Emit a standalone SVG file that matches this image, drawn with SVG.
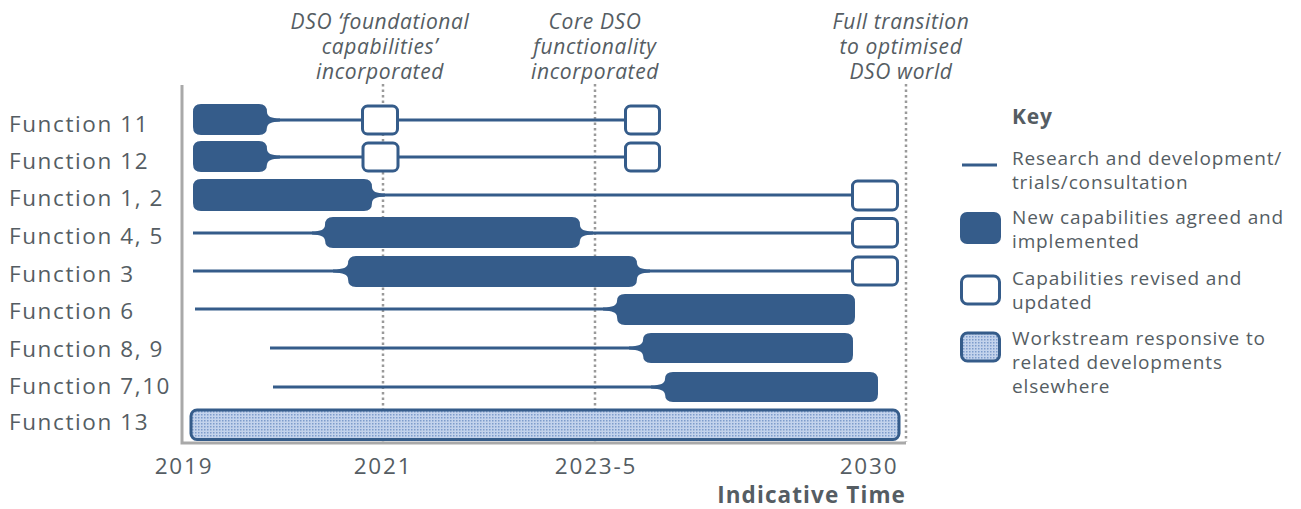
<svg xmlns="http://www.w3.org/2000/svg" width="1301" height="509" viewBox="0 0 1301 509">
<defs>
<pattern id="dots" width="3" height="3" patternUnits="userSpaceOnUse">
<rect width="3" height="3" fill="#c3d3ec"/>
<rect x="0" y="0" width="1.5" height="1.5" fill="#7d9ccb"/>
</pattern>
</defs>
<style>
.lbl{font-family:"Open Sans","Noto Sans",sans-serif;font-size:22.5px;fill:#555d63;letter-spacing:1.6px}
.yr{font-family:"Open Sans","Noto Sans",sans-serif;font-size:22.5px;fill:#555d63;letter-spacing:1.8px;text-anchor:middle}
.ann{font-family:"Open Sans","Noto Sans",sans-serif;font-size:21px;font-style:italic;fill:#555d63;text-anchor:middle;letter-spacing:0.6px}
.key{font-family:"Open Sans","Noto Sans",sans-serif;font-size:19px;fill:#555d63;letter-spacing:0.85px}
.bold{font-weight:bold}
.bar{fill:#355c8a}
.box{fill:#fff;stroke:#355c8a;stroke-width:3}
.hatch{fill:url(#dots);stroke:#355c8a;stroke-width:3}
.ln{stroke:#355c8a;stroke-width:3;fill:none}
.axis{stroke:#a9a9a9;stroke-width:3;fill:none}
.grid{stroke:#9a9a9a;stroke-width:2.5;stroke-dasharray:2.5 3;fill:none}
</style>
<g id="grid">
<line class="grid" x1="383" y1="84" x2="383" y2="442"/>
<line class="grid" x1="595" y1="84" x2="595" y2="442"/>
<line class="grid" x1="906" y1="84" x2="906" y2="442"/>
<polyline class="axis" points="182,85 182,443 906,443"/>
</g>
<g id="annotations">
<text class="ann" x="380" y="29">DSO ‘foundational</text>
<text class="ann" x="380" y="54">capabilities’</text>
<text class="ann" x="380" y="79">incorporated</text>
<text class="ann" x="595" y="29">Core DSO</text>
<text class="ann" x="595" y="54">functionality</text>
<text class="ann" x="595" y="79">incorporated</text>
<text class="ann" x="901" y="29">Full transition</text>
<text class="ann" x="901" y="54">to optimised</text>
<text class="ann" x="901" y="79">DSO world</text>
</g>
<g id="connectors">
<line class="ln" x1="270" y1="120" x2="625" y2="120"/>
<line class="ln" x1="270" y1="157" x2="625" y2="157"/>
<line class="ln" x1="376" y1="195" x2="852" y2="195"/>
<line class="ln" x1="193" y1="233" x2="852" y2="233"/>
<line class="ln" x1="193" y1="271" x2="852" y2="271"/>
<line class="ln" x1="195" y1="309" x2="617" y2="309"/>
<line class="ln" x1="270" y1="348" x2="643" y2="348"/>
<line class="ln" x1="273" y1="387" x2="665" y2="387"/>
</g>
<g id="labels">
<text class="lbl" x="9" y="131.5">Function 11</text>
<text class="lbl" x="9" y="168.5">Function 12</text>
<text class="lbl" x="9" y="206">Function 1, 2</text>
<text class="lbl" x="9" y="243.5">Function 4, 5</text>
<text class="lbl" x="9" y="281.5">Function 3</text>
<text class="lbl" x="9" y="318.5">Function 6</text>
<text class="lbl" x="9" y="356.5">Function 8, 9</text>
<text class="lbl" x="9" y="393.5">Function 7,10</text>
<text class="lbl" x="9" y="430">Function 13</text>
</g>
<g id="f11">
<path class="bar" d="M201,104 H259 Q267,104 267,112 V112 Q267,118.5 280,118.5 V121.5 Q267,121.5 267,128 V127 Q267,135 259,135 H201 Q193,135 193,127 V112 Q193,104 201,104 Z"/>
<rect class="box" x="362.5" y="106" width="35" height="28" rx="5"/>
<rect class="box" x="625.5" y="106" width="34" height="28" rx="5"/>
</g>
<g id="f12">
<path class="bar" d="M201,141 H259 Q267,141 267,149 V149 Q267,155.5 280,155.5 V158.5 Q267,158.5 267,165 V164 Q267,172 259,172 H201 Q193,172 193,164 V149 Q193,141 201,141 Z"/>
<rect class="box" x="363" y="143" width="35" height="28" rx="5"/>
<rect class="box" x="625.5" y="143" width="34" height="28" rx="5"/>
</g>
<g id="f1-2">
<path class="bar" d="M201,179 H364 Q372,179 372,187 V187 Q372,193.5 385,193.5 V196.5 Q372,196.5 372,203 V203 Q372,211 364,211 H201 Q193,211 193,203 V187 Q193,179 201,179 Z"/>
<rect class="box" x="852.5" y="181" width="45" height="29" rx="5"/>
</g>
<g id="f4-5">
<path class="bar" d="M333,217 H572 Q580,217 580,225 V225 Q580,231.5 593,231.5 V234.5 Q580,234.5 580,241 V240 Q580,248 572,248 H333 Q325,248 325,240 V241 Q325,234.5 312,234.5 V231.5 Q325,231.5 325,225 V225 Q325,217 333,217 Z"/>
<rect class="box" x="852.5" y="218.5" width="45" height="28.5" rx="5"/>
</g>
<g id="f3">
<path class="bar" d="M356,256 H629 Q637,256 637,264 V263 Q637,269.5 650,269.5 V272.5 Q637,272.5 637,279 V279 Q637,287 629,287 H356 Q348,287 348,279 V279 Q348,272.5 333,272.5 V269.5 Q348,269.5 348,263 V264 Q348,256 356,256 Z"/>
<rect class="box" x="852.5" y="257" width="45" height="28" rx="5"/>
</g>
<g id="f6">
<path class="bar" d="M625,294 H847 Q855,294 855,302 V317 Q855,325 847,325 H625 Q617,325 617,317 V317 Q617,310.5 603,310.5 V307.5 Q617,307.5 617,301 Q617,294 625,294 Z"/>
</g>
<g id="f8-9">
<path class="bar" d="M651,333 H845 Q853,333 853,341 V355 Q853,363 845,363 H651 Q643,363 643,355 V356 Q643,349.5 629,349.5 V346.5 Q643,346.5 643,340 Q643,333 651,333 Z"/>
</g>
<g id="f7-10">
<path class="bar" d="M673,372 H870 Q878,372 878,380 V394 Q878,402 870,402 H673 Q665,402 665,394 V395 Q665,388.5 651,388.5 V385.5 Q665,385.5 665,379 Q665,372 673,372 Z"/>
</g>
<g id="f13">
<rect class="hatch" x="191" y="410" width="708" height="29.5" rx="6"/>
</g>
<g id="years">
<text class="yr" x="184" y="474">2019</text>
<text class="yr" x="383" y="474">2021</text>
<text class="yr" x="596" y="474">2023-5</text>
<text class="yr" x="869" y="474">2030</text>
<text class="lbl bold" x="906" y="503" style="text-anchor:end;letter-spacing:1.1px">Indicative Time</text>
</g>
<g id="key">
<text class="key bold" x="1012" y="124" style="font-size:21px">Key</text>
<line class="ln" x1="962" y1="165" x2="997" y2="165"/>
<text class="key" x="1012" y="165">Research and development/</text>
<text class="key" x="1012" y="189">trials/consultation</text>
<rect class="bar" x="960" y="212" width="41" height="32" rx="7"/>
<text class="key" x="1012" y="224">New capabilities agreed and</text>
<text class="key" x="1012" y="248">implemented</text>
<rect class="box" x="961.5" y="276" width="38" height="28" rx="6"/>
<text class="key" x="1012" y="285">Capabilities revised and</text>
<text class="key" x="1012" y="309">updated</text>
<rect class="hatch" x="961.5" y="333" width="38" height="28" rx="6"/>
<text class="key" x="1012" y="345">Workstream responsive to</text>
<text class="key" x="1012" y="369">related developments</text>
<text class="key" x="1012" y="393">elsewhere</text>
</g>
</svg>
